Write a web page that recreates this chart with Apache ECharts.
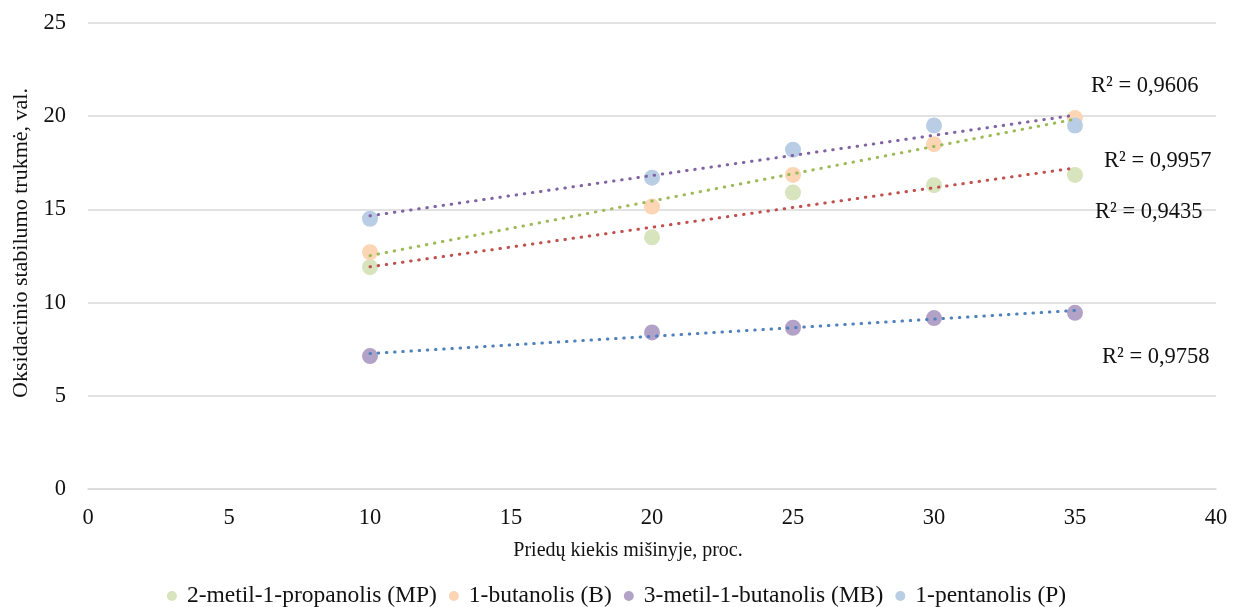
<!DOCTYPE html>
<html><head><meta charset="utf-8">
<script src="https://cdn.jsdelivr.net/npm/echarts@6/dist/echarts.min.js"></script>
<style>html,body{margin:0;padding:0;background:#fff}#c{width:1233px;height:607px}</style>
</head><body><div id="c"></div>
<script>
const xValues = [10, 20, 25, 30, 35];
const seriesNames = ['2-metil-1-propanolis (MP)', '1-butanolis (B)', '3-metil-1-butanolis (MB)', '1-pentanolis (P)'];
const mpValues = [11.9, 13.5, 15.9, 16.3, 16.85];
const bValues = [12.7, 15.15, 16.85, 18.5, 19.9];
const mbValues = [7.13, 8.4, 8.65, 9.17, 9.45];
const pValues = [14.5, 16.7, 18.2, 19.5, 19.5];
const r2Labels = ['R² = 0,9435', 'R² = 0,9957', 'R² = 0,9758', 'R² = 0,9606'];
const xTicks = [0, 5, 10, 15, 20, 25, 30, 35, 40];
const yTicks = [0, 5, 10, 15, 20, 25];

const pointColors = ['#d7e4bd', '#fcd5b5', '#b3a2c7', '#b9cde5'];
const lineColors = ['#c0504d', '#9bbb59', '#4f81bd', '#8064a2'];
const labelOffsets = [[12, 44], [21, 42], [19, 47], [8, -29]];
const allValues = [mpValues, bValues, mbValues, pValues];

function fit(xs, ys) {
  const n = xs.length;
  const mx = xs.reduce((a, b) => a + b, 0) / n;
  const my = ys.reduce((a, b) => a + b, 0) / n;
  let sxy = 0, sxx = 0;
  for (let i = 0; i < n; i++) { sxy += (xs[i] - mx) * (ys[i] - my); sxx += (xs[i] - mx) ** 2; }
  const k = sxy / sxx;
  return x => my + k * (x - mx);
}

const font = 'Liberation Serif, Times New Roman, serif';
const series = [];
allValues.forEach((vals, i) => {
  series.push({
    name: seriesNames[i], type: 'scatter', symbol: 'circle', symbolSize: 16, z: 2,
    itemStyle: { color: pointColors[i], opacity: 1 },
    data: xValues.map((x, j) => [x, vals[j]])
  });
});
allValues.forEach((vals, i) => {
  const f = fit(xValues, vals);
  const x0 = xValues[0], x1 = xValues[xValues.length - 1];
  series.push({
    name: 'trend' + i, type: 'line', z: 3, symbol: 'none', silent: true,
    lineStyle: { color: lineColors[i], width: 3, type: [0.5, 7.7], cap: 'round' },
    data: [[x0, f(x0)], [x1, f(x1)]],
    endLabel: { show: true, formatter: r2Labels[i], offset: labelOffsets[i], color: '#111', fontFamily: font, fontSize: 22.5 }
  });
});

const chart = echarts.init(document.getElementById('c'));
chart.setOption({
  animation: false,
  grid: { left: 88, right: 17, top: 23, bottom: 118, containLabel: false },
  legend: {
    data: seriesNames, top: 584, left: 'center', padding: 0, icon: 'circle', itemWidth: 10, itemHeight: 10, itemGap: 12,
    textStyle: { fontFamily: font, fontSize: 23.5, color: '#111', padding: [0, 0, 0, 5] }
  },
  xAxis: {
    type: 'value', min: xTicks[0], max: xTicks[xTicks.length - 1], interval: 5,
    name: 'Priedų kiekis mišinyje, proc.', nameLocation: 'middle', nameGap: 52,
    nameTextStyle: { fontFamily: font, fontSize: 20, color: '#111', padding: [0, 48, 0, 0] },
    axisLine: { show: true, lineStyle: { color: '#d9d9d9', width: 1.5 } },
    axisTick: { show: false },
    axisLabel: { fontFamily: font, fontSize: 22.5, color: '#111', margin: 18 },
    splitLine: { show: false }
  },
  yAxis: {
    type: 'value', min: yTicks[0], max: yTicks[yTicks.length - 1], interval: 5,
    name: 'Oksidacinio stabilumo trukmė, val.', nameLocation: 'middle', nameGap: 55,
    nameTextStyle: { fontFamily: font, fontSize: 22, color: '#111', padding: [0, 0, 0, 26] },
    axisLine: { show: false }, axisTick: { show: false },
    axisLabel: { fontFamily: font, fontSize: 22.5, color: '#111', margin: 22, padding: [5, 0, 0, 0] },
    splitLine: { lineStyle: { color: '#d9d9d9', width: 1.5 } }
  },
  series: series
});
</script></body></html>
